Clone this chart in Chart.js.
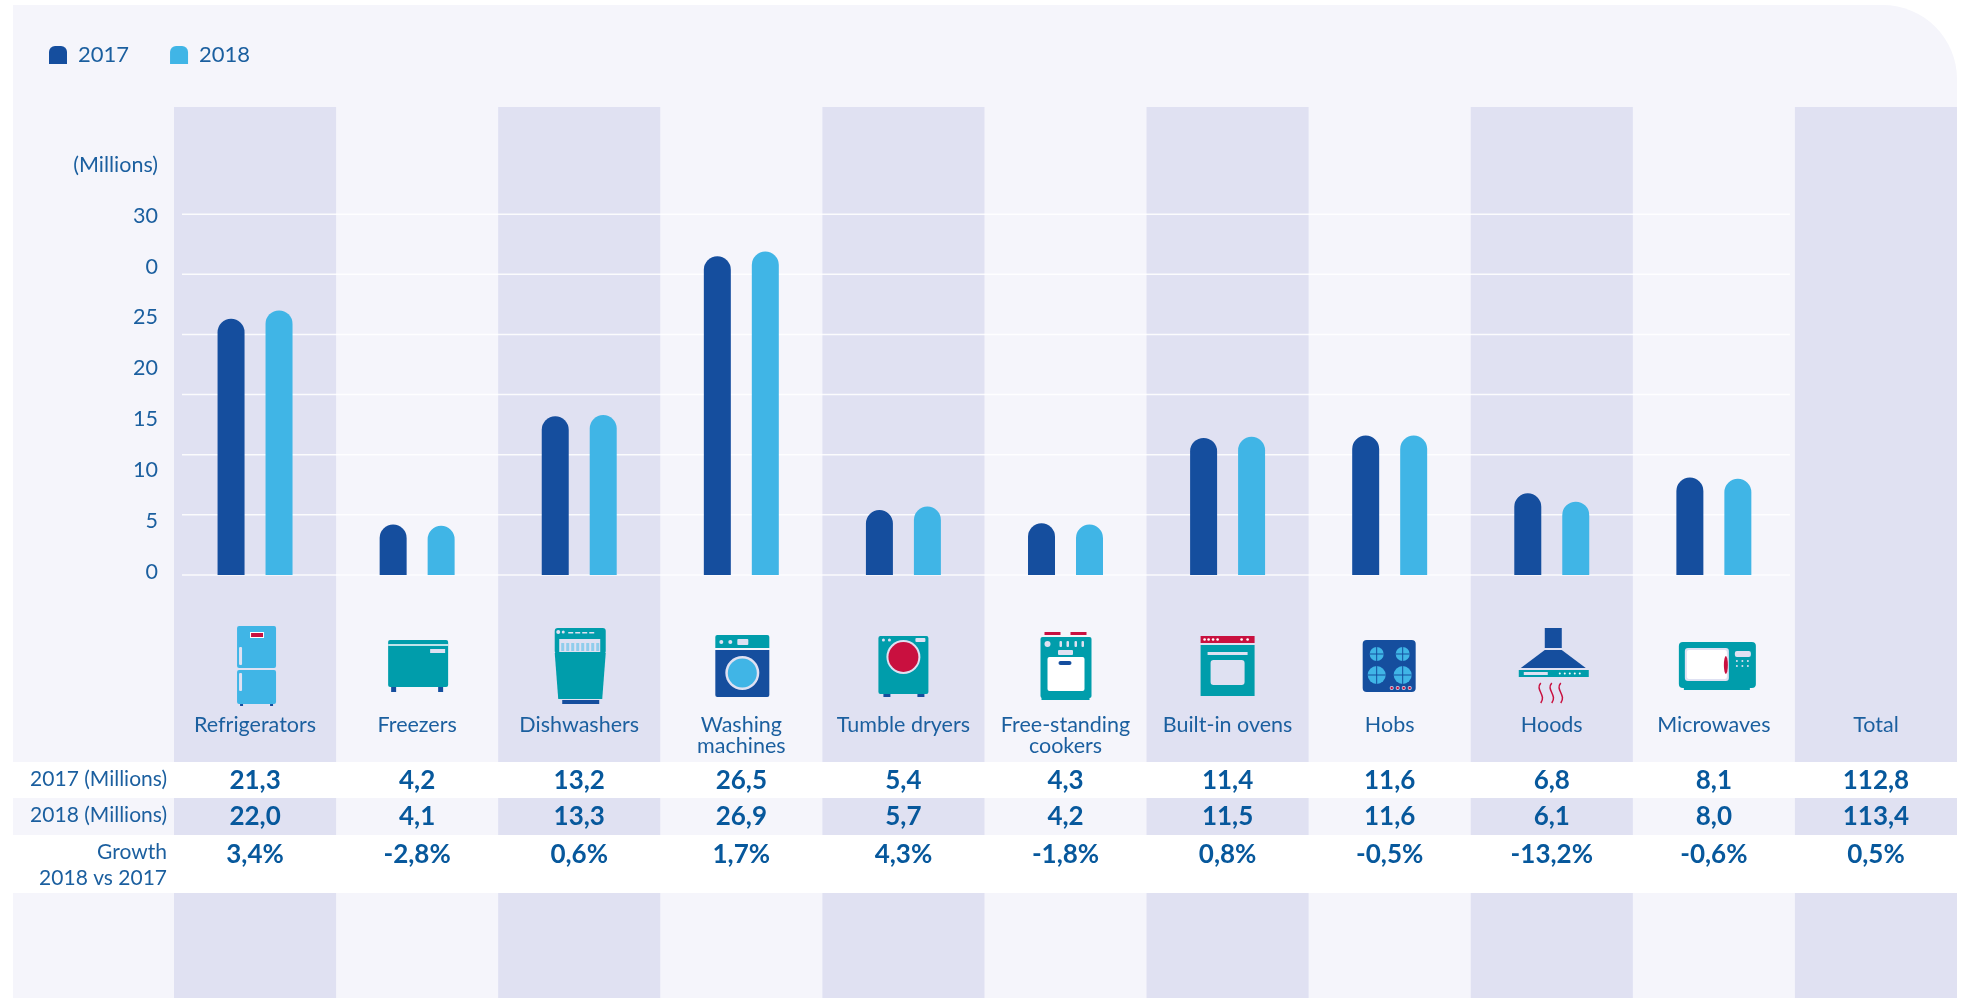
<!DOCTYPE html>
<html lang="en">

<head>
    <meta charset="UTF-8">
    <title>Appliances 2017 - 2018</title>
    <script src="https://cdn.jsdelivr.net/npm/chart.js"></script>
    <style>
        html, body { margin: 0; padding: 0; background: #fff; overflow: hidden; }
        .panel {
            position: absolute; left: 13px; top: 5px; width: 1944px; height: 993px;
            background: #f5f5fb; border-top-right-radius: 74px;
        }
        #myChart { position: absolute; left: 0; top: 0; }
    </style>
</head>

<body>
    <div class="panel"></div>
    <canvas id="myChart" width="1964" height="998"></canvas>
    <script>
        const categories = ['Refrigerators', 'Freezers', 'Dishwashers', ['Washing', 'machines'], 'Tumble dryers',
            ['Free-standing', 'cookers'], 'Built-in ovens', 'Hobs', 'Hoods', 'Microwaves', 'Total'];
        const values2017 = [21.3, 4.2, 13.2, 26.5, 5.4, 4.3, 11.4, 11.6, 6.8, 8.1, 112.8];
        const values2018 = [22.0, 4.1, 13.3, 26.9, 5.7, 4.2, 11.5, 11.6, 6.1, 8.0, 113.4];
        const growth = [3.4, -2.8, 0.6, 1.7, 4.3, -1.8, 0.8, -0.5, -13.2, -0.6, 0.5];
        // the source really prints a stray 0 between 25 and 30
        const yTickLabels = ['0', '5', '10', '15', '20', '25', '0', '30', '(Millions)'];

        const DARK = '#154e9e', LIGHT = '#40b5e6', TEAL = '#009dab', RED = '#c9103f';
        const STRIPE = '#e0e1f2', TEXT = '#1b5f9f', BOLD = '#07589c', PALE = '#dfe1f2';
        const FONT = 'Lato';

        function fmt(v) {
            return v.toFixed(1).replace('.', ',');
        }

        function box(ctx, x, y, w, h, color, r) {
            ctx.fillStyle = color;
            ctx.beginPath();
            ctx.roundRect(x, y, w, h, r || 0);
            ctx.fill();
        }

        function dot(ctx, x, y, r, color) {
            ctx.fillStyle = color;
            ctx.beginPath();
            ctx.arc(x, y, r, 0, Math.PI * 2);
            ctx.fill();
        }

        /* Icons: c is the band centre from the x scale */
        const icons = [
            function fridge(ctx, c) {
                box(ctx, c - 15, 703, 3, 3, DARK);
                box(ctx, c + 15, 703, 3, 3, DARK);
                box(ctx, c - 18, 626, 39, 42, LIGHT, 2);
                box(ctx, c - 18, 670, 39, 34, LIGHT, 2);
                box(ctx, c - 16, 647, 3, 18, PALE, 1);
                box(ctx, c - 16, 673, 3, 18, PALE, 1);
                box(ctx, c - 5, 632, 14, 6, '#fff');
                box(ctx, c - 4, 633, 12, 4, RED);
            },
            function freezer(ctx, c) {
                box(ctx, c - 26, 687, 5, 5, DARK);
                box(ctx, c + 21, 687, 5, 5, DARK);
                box(ctx, c - 29, 640, 60, 47, TEAL, 2);
                box(ctx, c - 29, 644, 60, 2, '#bfe3ea');
                box(ctx, c + 13, 649, 15, 4, PALE);
            },
            function dishwasher(ctx, c) {
                box(ctx, c - 24.5, 628, 51, 26, TEAL, 3);
                box(ctx, c - 20, 639, 41, 13, PALE);
                for (let i = 0; i < 8; i++) box(ctx, c - 18 + i * 5, 643, 3, 8, '#8fcdec');
                dot(ctx, c - 21, 632, 2, PALE);
                dot(ctx, c - 16, 632, 1.5, PALE);
                for (let i = 0; i < 4; i++) box(ctx, c - 11 + i * 7, 632, 5, 1.5, PALE);
                ctx.fillStyle = TEAL;
                ctx.beginPath();
                ctx.moveTo(c - 24.5, 653);
                ctx.lineTo(c + 26.5, 653);
                ctx.lineTo(c + 23, 699);
                ctx.lineTo(c - 21, 699);
                ctx.closePath();
                ctx.fill();
                box(ctx, c - 17, 700, 37, 4, DARK);
            },
            function washer(ctx, c) {
                box(ctx, c - 26, 635, 54, 13, TEAL, [2, 2, 0, 0]);
                box(ctx, c - 26, 650, 54, 47, DARK, [0, 0, 2, 2]);
                dot(ctx, c + 1, 673, 17, PALE);
                dot(ctx, c + 1, 673, 14.5, LIGHT);
                dot(ctx, c - 20, 642, 2, PALE);
                dot(ctx, c - 11, 642, 2, PALE);
                box(ctx, c - 4, 639, 11, 6, PALE, 1);
            },
            function dryer(ctx, c) {
                box(ctx, c - 20, 694, 7, 3, DARK);
                box(ctx, c + 14, 694, 7, 3, DARK);
                box(ctx, c - 25, 636, 50, 58, TEAL, 2);
                dot(ctx, c, 657, 17, PALE);
                dot(ctx, c, 657, 15, RED);
                dot(ctx, c - 20, 640, 1.5, PALE);
                dot(ctx, c - 14, 640, 1.5, PALE);
                box(ctx, c + 12, 638, 10, 4, PALE, 1);
            },
            function cooker(ctx, c) {
                box(ctx, c - 21, 632, 16, 3, RED);
                box(ctx, c + 5, 632, 16, 3, RED);
                box(ctx, c - 25, 637, 51, 61, TEAL, 2);
                box(ctx, c - 24, 697, 48, 3, TEAL);
                dot(ctx, c - 18, 644, 3, PALE);
                [-6, 1, 9, 16].forEach(function (dx) { box(ctx, c + dx, 641, 2.5, 6, PALE, 1); });
                box(ctx, c - 7.5, 650, 15, 5, PALE, 1);
                box(ctx, c - 18, 657, 37, 34, '#fff', 2);
                box(ctx, c - 7, 661, 13, 4, DARK, 2);
            },
            function oven(ctx, c) {
                box(ctx, c - 27, 636, 54, 7, RED);
                box(ctx, c - 27, 645, 54, 51, TEAL);
                [-23, -19, -14.5, -10, 14, 20].forEach(function (dx) { dot(ctx, c + dx, 639.5, 1.3, '#fff'); });
                box(ctx, c - 20, 652, 40, 3, PALE);
                box(ctx, c - 17, 660, 34, 25, PALE, 3);
            },
            function hob(ctx, c) {
                box(ctx, c - 27, 640, 53, 52, DARK, 4);
                [[-13, 654, 7], [13, 654, 7], [-13, 675, 9], [13, 675, 9]].forEach(function (b) {
                    dot(ctx, c + b[0], b[1], b[2], LIGHT);
                    box(ctx, c + b[0] - 0.5, b[1] - b[2], 1, b[2] * 2, DARK);
                    box(ctx, c + b[0] - b[2], b[1] - 0.5, b[2] * 2, 1, DARK);
                });
                [2, 8, 14, 20].forEach(function (dx) {
                    dot(ctx, c + dx, 688, 2, PALE);
                    dot(ctx, c + dx, 688, 1.2, RED);
                });
            },
            function hood(ctx, c) {
                box(ctx, c - 7, 628, 17, 20, DARK);
                ctx.fillStyle = DARK;
                ctx.beginPath();
                ctx.moveTo(c - 7, 650);
                ctx.lineTo(c + 10, 650);
                ctx.lineTo(c + 34, 668);
                ctx.lineTo(c - 31, 668);
                ctx.closePath();
                ctx.fill();
                box(ctx, c - 33, 670, 70, 7, TEAL);
                box(ctx, c - 28, 672, 24, 3, PALE);
                [8, 13, 18, 23, 28].forEach(function (dx) { dot(ctx, c + dx, 673.5, 1, '#fff'); });
                ctx.strokeStyle = RED;
                ctx.lineWidth = 1.5;
                [-11, 0, 9].forEach(function (dx) {
                    ctx.beginPath();
                    ctx.moveTo(c + dx, 683);
                    ctx.bezierCurveTo(c + dx - 6, 690, c + dx + 6, 695, c + dx, 703);
                    ctx.stroke();
                });
            },
            function microwave(ctx, c) {
                box(ctx, c - 35, 642, 77, 46, TEAL, 4);
                box(ctx, c - 30, 688, 66, 2, TEAL);
                box(ctx, c - 29, 648, 44, 33, PALE, 3);
                box(ctx, c - 27, 650, 40, 29, '#fff', 2);
                ctx.fillStyle = RED;
                ctx.beginPath();
                ctx.ellipse(c + 12, 665, 2, 9, 0, 0, Math.PI * 2);
                ctx.fill();
                box(ctx, c + 21, 651, 16, 6, PALE, 2);
                [23, 28.5, 34].forEach(function (dx) {
                    dot(ctx, c + dx, 661, 1, PALE);
                    dot(ctx, c + dx, 666, 1, PALE);
                });
            }
        ];

        const backdrop = {
            id: 'backdrop',
            beforeDraw(chart) {
                const { ctx, scales: { x, y } } = chart;
                const band = x.getPixelForValue(1) - x.getPixelForValue(0);
                ctx.save();
                categories.forEach(function (c, i) {
                    if (i % 2 === 0) {
                        ctx.fillStyle = STRIPE;
                        ctx.fillRect(x.getPixelForValue(i) - band / 2, 107, band, 891);
                    }
                });
                ctx.restore();
            },
            beforeDatasetsDraw(chart) {
                const { ctx, scales: { x, y } } = chart;
                const band = x.getPixelForValue(1) - x.getPixelForValue(0);
                ctx.save();
                ctx.strokeStyle = 'rgba(255,255,255,0.85)';
                ctx.lineWidth = 1.5;
                y.ticks.forEach(function (t) {
                    const py = y.getPixelForValue(t.value);
                    ctx.beginPath();
                    ctx.moveTo(182, py);
                    ctx.lineTo(x.getPixelForValue(9) + band / 2 - 5, py);
                    ctx.stroke();
                });
                ctx.restore();
            },
            afterDatasetsDraw(chart) {
                const { ctx, scales: { x } } = chart;
                ctx.save();
                icons.forEach(function (draw, i) { draw(ctx, x.getPixelForValue(i)); });

                ctx.fillStyle = '#fff';
                ctx.fillRect(13, 762, 1951, 36);
                ctx.fillRect(13, 835, 1951, 58);

                ctx.textBaseline = 'middle';
                ctx.textAlign = 'right';
                ctx.fillStyle = TEXT;
                ctx.font = '21px ' + FONT;
                ctx.fillText('2017 (Millions)', 167, 779);
                ctx.fillText('2018 (Millions)', 167, 815);
                ctx.fillText('Growth', 167, 852);
                ctx.fillText('2018 vs 2017', 167, 878);

                ctx.textAlign = 'center';
                ctx.fillStyle = BOLD;
                ctx.font = 'bold 26px ' + FONT;
                categories.forEach(function (c, i) {
                    const px = x.getPixelForValue(i);
                    ctx.fillText(fmt(values2017[i]), px, 781);
                    ctx.fillText(fmt(values2018[i]), px, 817);
                    ctx.fillText(fmt(growth[i]) + '%', px, 855);
                });
                ctx.restore();
            }
        };

        new Chart(document.getElementById('myChart'), {
            type: 'bar',
            data: {
                labels: categories,
                datasets: [
                    {
                        label: '2017',
                        data: values2017.slice(0, 10),
                        backgroundColor: DARK,
                        borderRadius: { topLeft: 13.5, topRight: 13.5 },
                        borderSkipped: false,
                        categoryPercentage: 0.592,
                        barPercentage: 0.5625
                    },
                    {
                        label: '2018',
                        data: values2018.slice(0, 10),
                        backgroundColor: LIGHT,
                        borderRadius: { topLeft: 13.5, topRight: 13.5 },
                        borderSkipped: false,
                        categoryPercentage: 0.592,
                        barPercentage: 0.5625
                    }
                ]
            },
            plugins: [backdrop],
            options: {
                responsive: false,
                animation: false,
                layout: { padding: { left: 8, top: 3, right: 7, bottom: 0 } },
                plugins: {
                    tooltip: { enabled: false },
                    legend: {
                        position: 'top',
                        align: 'start',
                        weight: 3000,
                        labels: {
                            boxWidth: 18,
                            boxHeight: 18,
                            padding: 41,
                            color: TEXT,
                            font: { family: FONT, size: 22 },
                            useBorderRadius: true,
                            borderRadius: { topLeft: 6, topRight: 6, bottomLeft: 0, bottomRight: 0 }
                        }
                    },
                    // spacer that pushes the plot down below the legend
                    title: { display: true, text: ' ', weight: 2000, font: { size: 1 }, padding: { top: 0, bottom: 137 } }
                },
                scales: {
                    x: {
                        grid: { display: false },
                        border: { display: false },
                        ticks: {
                            autoSkip: false,
                            maxRotation: 0,
                            padding: 131,
                            color: TEXT,
                            font: { family: FONT, size: 21.5, lineHeight: 1 }
                        },
                        afterFit(scale) {
                            // big tick padding must not eat into the plot width
                            scale.height = 423;
                            scale.paddingLeft = 0;
                            scale.paddingRight = 0;
                        }
                    },
                    y: { display: false, min: 0, max: 30, ticks: { stepSize: 5 } },
                    y2: {
                        position: 'left',
                        min: -0.06,
                        max: 7.03,
                        grid: { display: false, drawTicks: false },
                        border: { display: false },
                        afterBuildTicks(scale) {
                            scale.ticks = yTickLabels.map(function (l, i) { return { value: i }; });
                        },
                        afterFit(scale) { scale.width = 166; },
                        ticks: {
                            autoSkip: false,
                            padding: 16,
                            color: TEXT,
                            font: { family: FONT, size: 21.5 },
                            callback: function (v, i) { return yTickLabels[i]; }
                        }
                    }
                }
            }
        });
    </script>
</body>

</html>
